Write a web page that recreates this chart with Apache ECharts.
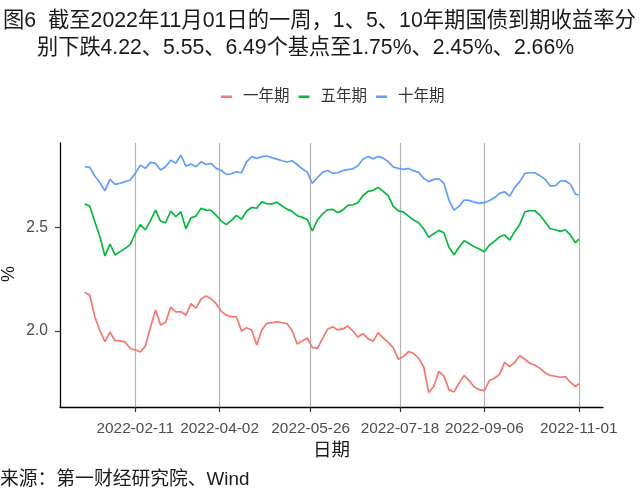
<!DOCTYPE html>
<html><head><meta charset="utf-8">
<script src="https://cdn.jsdelivr.net/npm/echarts@6/dist/echarts.min.js"></script>
<style>html,body{margin:0;padding:0;background:#fff}#c{width:640px;height:498px}</style>
</head><body><div id="c"></div>
<script>
const dates = [
'2022-01-12','2022-01-15','2022-01-18','2022-01-21','2022-01-24','2022-01-27','2022-01-30',
'2022-02-02','2022-02-05','2022-02-08','2022-02-11','2022-02-14','2022-02-17','2022-02-20','2022-02-23','2022-02-26',
'2022-03-01','2022-03-04','2022-03-07','2022-03-10','2022-03-13','2022-03-16','2022-03-19','2022-03-22','2022-03-25','2022-03-28','2022-03-31',
'2022-04-03','2022-04-06','2022-04-09','2022-04-12','2022-04-15','2022-04-18','2022-04-21','2022-04-24','2022-04-27','2022-04-30',
'2022-05-03','2022-05-06','2022-05-09','2022-05-12','2022-05-15','2022-05-18','2022-05-21','2022-05-24','2022-05-27','2022-05-30',
'2022-06-02','2022-06-05','2022-06-08','2022-06-11','2022-06-14','2022-06-17','2022-06-20','2022-06-23','2022-06-26','2022-06-29',
'2022-07-02','2022-07-05','2022-07-08','2022-07-11','2022-07-14','2022-07-17','2022-07-20','2022-07-23','2022-07-26','2022-07-29',
'2022-08-01','2022-08-04','2022-08-07','2022-08-10','2022-08-13','2022-08-16','2022-08-19','2022-08-22','2022-08-25','2022-08-28','2022-08-31',
'2022-09-03','2022-09-06','2022-09-09','2022-09-12','2022-09-15','2022-09-18','2022-09-21','2022-09-24','2022-09-27','2022-09-30',
'2022-10-03','2022-10-06','2022-10-09','2022-10-12','2022-10-15','2022-10-18','2022-10-21','2022-10-24','2022-10-27','2022-10-30',
'2022-11-01'];
const yield1y = [
2.187,2.173,2.069,2.002,1.948,1.994,1.953,
1.952,1.947,1.915,1.908,1.898,1.927,2.018,2.102,2.029,
2.042,2.115,2.092,2.094,2.076,2.132,2.111,2.155,2.169,2.156,2.131,
2.095,2.077,2.069,2.068,2.000,2.016,2.005,1.932,2.005,2.037,
2.040,2.045,2.040,2.035,2.002,1.937,1.952,1.966,1.921,1.916,
1.963,2.008,2.021,2.005,2.010,2.024,2.000,1.971,1.987,1.963,
1.950,1.992,1.966,1.945,1.918,1.863,1.876,1.900,1.892,1.868,
1.827,1.702,1.731,1.805,1.782,1.716,1.705,1.748,1.784,1.760,1.729,
1.716,1.711,1.760,1.771,1.790,1.848,1.827,1.848,1.880,1.863,
1.844,1.834,1.819,1.798,1.785,1.781,1.776,1.779,1.752,1.731,
1.745];
const yield5y = [
2.615,2.605,2.529,2.456,2.363,2.421,2.368,
2.384,2.400,2.418,2.473,2.515,2.489,2.534,2.585,2.531,
2.524,2.581,2.553,2.577,2.495,2.548,2.556,2.594,2.585,2.584,2.560,
2.532,2.515,2.535,2.560,2.540,2.581,2.598,2.594,2.626,2.616,
2.615,2.624,2.605,2.590,2.579,2.558,2.550,2.540,2.484,2.537,
2.566,2.587,2.589,2.573,2.585,2.608,2.611,2.621,2.656,2.676,
2.681,2.695,2.676,2.655,2.603,2.581,2.577,2.556,2.537,2.524,
2.495,2.453,2.471,2.487,2.476,2.405,2.369,2.405,2.437,2.423,2.408,
2.397,2.384,2.416,2.434,2.456,2.465,2.440,2.482,2.516,2.577,
2.582,2.582,2.560,2.529,2.495,2.490,2.482,2.490,2.465,2.427,
2.445];
const yield10y = [
2.795,2.792,2.750,2.718,2.679,2.734,2.710,
2.715,2.723,2.731,2.763,2.803,2.787,2.816,2.811,2.779,
2.795,2.827,2.812,2.852,2.798,2.808,2.795,2.819,2.806,2.811,2.787,
2.777,2.758,2.761,2.771,2.766,2.819,2.844,2.835,2.844,2.847,
2.839,2.832,2.824,2.818,2.824,2.806,2.785,2.769,2.715,2.742,
2.768,2.777,2.763,2.766,2.776,2.781,2.785,2.800,2.831,2.845,
2.834,2.845,2.837,2.819,2.794,2.787,2.782,2.787,2.776,2.768,
2.739,2.723,2.734,2.737,2.715,2.634,2.585,2.603,2.634,2.632,2.624,
2.618,2.621,2.632,2.645,2.666,2.674,2.653,2.695,2.723,2.763,
2.766,2.766,2.752,2.734,2.702,2.703,2.726,2.727,2.711,2.663,
2.658];
const seriesNames = ['一年期','五年期','十年期'];
const xTickDates = ['2022-02-11','2022-04-02','2022-05-26','2022-07-18','2022-09-06','2022-11-01'];
const yTicks = [2.0, 2.5];
const titleLines = ['图6  截至2022年11月01日的一周，1、5、10年期国债到期收益率分','别下跌4.22、5.55、6.49个基点至1.75%、2.45%、2.66%'];
const sourceText = '来源：第一财经研究院、Wind';
const yAxisName = '%';

const DAY = 86400000;
function ts(s){const p=s.split('-');return Date.UTC(+p[0],+p[1]-1,+p[2]);}
function fmt(v){const d=new Date(v);const p=n=>(n<10?'0':'')+n;return d.getUTCFullYear()+'-'+p(d.getUTCMonth()+1)+'-'+p(d.getUTCDate());}
const base = ts('2022-01-01');
const xMin = base - 3.65*DAY, xMax = base + 318.35*DAY;
const FONT = "'Liberation Sans','Noto Sans CJK SC',sans-serif";
const colors = ['#F8766D','#00BA38','#619CFF'];
const allY = [yield1y, yield5y, yield10y];
const xTickVals = xTickDates.map(ts);

const chart = echarts.init(document.getElementById('c'), null, {renderer:'canvas'});
chart.setOption({
  animation:false,
  backgroundColor:'#fff',
  textStyle:{fontFamily:FONT},
  title:[
    {text:titleLines[0], left:3, top:10, padding:0, textStyle:{fontSize:21.3, fontWeight:'normal', color:'#1a1a1a', fontFamily:FONT}},
    {text:titleLines[1], left:37, top:38, padding:0, textStyle:{fontSize:21.2, fontWeight:'normal', color:'#1a1a1a', fontFamily:FONT}}
  ],
  legend:{
    data:seriesNames, left:221, top:89, padding:0, icon:'rect', itemWidth:11, itemHeight:2.5, itemGap:9,
    textStyle:{fontSize:15.5, color:'#333', fontFamily:FONT, padding:[0,0,0,6]}
  },
  grid:{left:60, right:37, top:143, bottom:91, containLabel:false, outerBoundsMode:'none'},
  xAxis:{
    type:'value', min:xMin, max:xMax, scale:true,
    name:'日期', nameLocation:'middle', nameGap:35,
    nameTextStyle:{fontSize:18.5, color:'#1a1a1a', fontFamily:FONT},
    axisLine:{show:true, lineStyle:{color:'#000', width:1.3}},
    axisTick:{show:true, length:5, customValues:xTickVals, lineStyle:{color:'#333', width:1.2}},
    axisLabel:{customValues:xTickVals, margin:14, fontSize:15.4, color:'#4d4d4d', fontFamily:FONT, formatter:fmt},
    splitLine:{show:true, lineStyle:{color:'#b3b3b3', width:1.2}}
  },
  yAxis:{
    type:'value', min:1.632, max:2.91,
    axisLine:{show:true, lineStyle:{color:'#000', width:1.3}},
    axisTick:{show:true, length:5, customValues:yTicks, lineStyle:{color:'#333', width:1.2}},
    axisLabel:{customValues:yTicks, margin:12, fontSize:15.6, color:'#4d4d4d', fontFamily:FONT,
      formatter:function(v){return Number(v).toFixed(1);}},
    splitLine:{show:false}
  },
  graphic:[
    {type:'text', left:0, top:470, style:{text:sourceText, fill:'#1a1a1a', font:'18.8px '+FONT}},
    {type:'text', x:9, y:274, rotation:Math.PI/2, style:{text:yAxisName, fill:'#1a1a1a', font:'18px '+FONT, align:'center', verticalAlign:'middle'}}
  ],
  series: seriesNames.map(function(n,i){
    return {name:n, type:'line', showSymbol:false, symbol:'none',
      lineStyle:{width:1.7, color:colors[i]}, itemStyle:{color:colors[i]},
      data: dates.map(function(d,k){return [ts(d), allY[i][k]];})};
  })
});
</script></body></html>
